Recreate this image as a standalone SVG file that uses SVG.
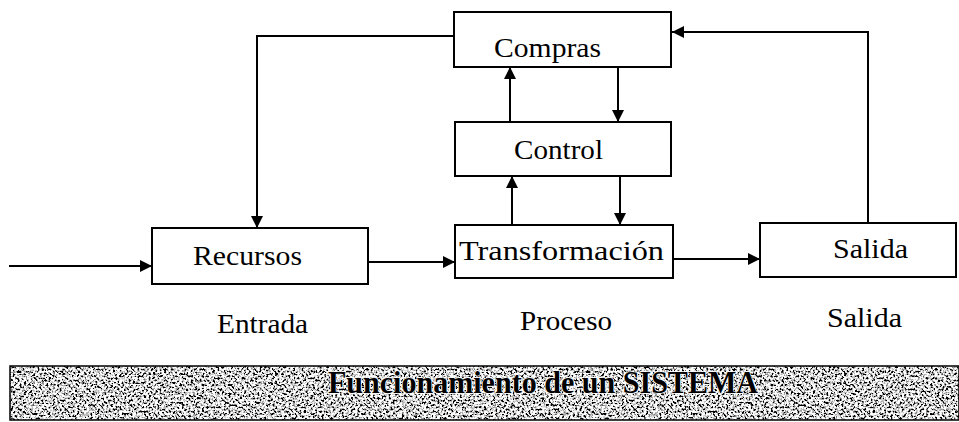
<svg xmlns="http://www.w3.org/2000/svg" width="959" height="422" viewBox="0 0 959 422">
<style>
.box{fill:#fff;stroke:#000;stroke-width:2}
.lbl{font-family:"Liberation Serif","Times New Roman",serif;font-size:27px;fill:#000}
.con{fill:none;stroke:#000;stroke-width:2}
.ban{font-family:"Liberation Serif","Times New Roman",serif;font-size:32px;font-weight:bold;fill:#000;stroke:#fff;stroke-width:1.5;paint-order:stroke}
</style>
<defs>
<marker id="ah" viewBox="0 0 10 10" refX="10" refY="5" markerWidth="6.5" markerHeight="6" markerUnits="strokeWidth" orient="auto">
<path d="M0,0 L10,5 L0,10 Z" fill="#000"/>
</marker>
<filter id="noise" x="0" y="0" width="100%" height="100%">
<feTurbulence type="fractalNoise" baseFrequency="0.45" numOctaves="4" seed="7" result="t"/>
<feColorMatrix type="matrix" values="4.5 0 0 0 -1.6  4.5 0 0 0 -1.6  4.5 0 0 0 -1.6  0 0 0 0 1" result="n"/>
<feComposite in="n" in2="SourceGraphic" operator="in"/>
</filter>
</defs>
<rect width="959" height="422" fill="#fff"/>
<g id="connectors">
<path class="con" d="M9,266 H152" marker-end="url(#ah)"/>
<path class="con" d="M368,262 H455" marker-end="url(#ah)"/>
<path class="con" d="M673,259 H760" marker-end="url(#ah)"/>
<path class="con" d="M868,223 V32 H672" marker-end="url(#ah)"/>
<path class="con" d="M454,36 H257 V228" marker-end="url(#ah)"/>
<path class="con" d="M510,122 V67" marker-end="url(#ah)"/>
<path class="con" d="M618,67 V122" marker-end="url(#ah)"/>
<path class="con" d="M512,225 V176" marker-end="url(#ah)"/>
<path class="con" d="M620,176 V225" marker-end="url(#ah)"/>
</g>
<g id="compras">
<rect class="box" x="454" y="12" width="217" height="55"/>
<text class="lbl" x="494" y="57" textLength="107" lengthAdjust="spacingAndGlyphs">Compras</text>
</g>
<g id="control">
<rect class="box" x="455" y="122" width="216" height="54"/>
<text class="lbl" x="514" y="159" textLength="89" lengthAdjust="spacingAndGlyphs">Control</text>
</g>
<g id="recursos">
<rect class="box" x="152" y="228" width="216" height="56"/>
<text class="lbl" x="193" y="265" textLength="109" lengthAdjust="spacingAndGlyphs">Recursos</text>
</g>
<g id="transformacion">
<rect class="box" x="455" y="225" width="218" height="53"/>
<text class="lbl" x="459" y="260" textLength="205" lengthAdjust="spacingAndGlyphs">Transformación</text>
</g>
<g id="salida">
<rect class="box" x="760" y="223" width="196" height="54"/>
<text class="lbl" x="833" y="258" textLength="75" lengthAdjust="spacingAndGlyphs">Salida</text>
</g>
<g id="labels">
<text class="lbl" x="217" y="333" textLength="91" lengthAdjust="spacingAndGlyphs">Entrada</text>
<text class="lbl" x="520" y="330" textLength="92" lengthAdjust="spacingAndGlyphs">Proceso</text>
<text class="lbl" x="827" y="327" textLength="75" lengthAdjust="spacingAndGlyphs">Salida</text>
</g>
<g id="banner">
<rect x="10" y="366" width="949" height="54" fill="#a0a0a0"/>
<rect x="10" y="366" width="949" height="54" fill="#000" filter="url(#noise)"/>
<rect x="10" y="366" width="949" height="54" fill="none" stroke="#000" stroke-width="1.5"/>
<text class="ban" x="328" y="393" textLength="430" lengthAdjust="spacingAndGlyphs">Funcionamiento de un SISTEMA</text>
</g>
</svg>
